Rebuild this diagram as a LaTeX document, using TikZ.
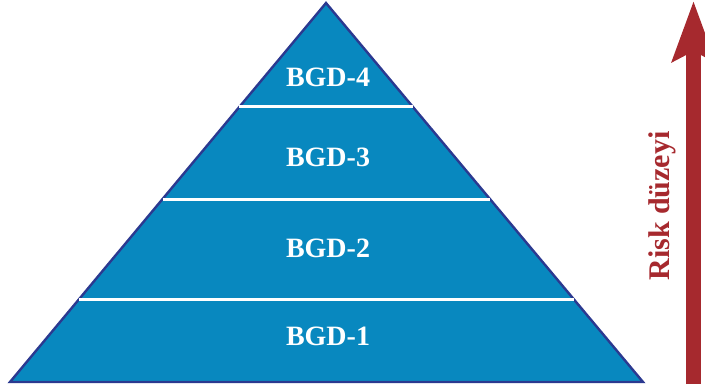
\documentclass[tikz,border=0pt]{standalone}
\usepackage{fontspec}
\setmainfont{Liberation Serif}
\usetikzlibrary{calc,arrows.meta}
\definecolor{layerblue}{HTML}{0888BF}
\definecolor{edgenavy}{HTML}{2B3990}
\definecolor{riskred}{HTML}{A6292E}
\begin{document}
\begin{tikzpicture}[x=0.5pt, y=-0.5pt,
    level/.style={text=white, font=\bfseries\fontsize{14}{16}\selectfont},
    divider/.style={white, line width=1.5pt}]
    \useasboundingbox (0,0) rectangle (705,390);
    \coordinate (top) at (326,3);
    \coordinate (left) at (10,382);
    \coordinate (right) at (643,382);
    \filldraw[fill=layerblue, draw=edgenavy, line width=1.2pt, line join=miter]
        (top) -- (left) -- (right) -- cycle;
    \foreach \t/\n in {0.2744/a, 0.5172/b, 0.781/c}
        \draw[divider] ($(top)!\t!(left)$) -- ($(top)!\t!(right)$);
    \node[level] (L4) at (328,77) {BGD-4};
    \node[level] (L3) at (328,157) {BGD-3};
    \node[level] (L2) at (328,248) {BGD-2};
    \node[level] (L1) at (328,336) {BGD-1};
    \coordinate (low) at (693.5,384);
    \coordinate (high) at (693.5,1);
    \draw[riskred, line width=7.5pt, -{Stealth[length=30pt, width=21pt, inset=5pt]}] (low) -- (high);
    \node[rotate=90, text=riskred, font=\bfseries\fontsize{15}{17}\selectfont] (risk) at (662,206) {Risk düzeyi};
\end{tikzpicture}
\end{document}
